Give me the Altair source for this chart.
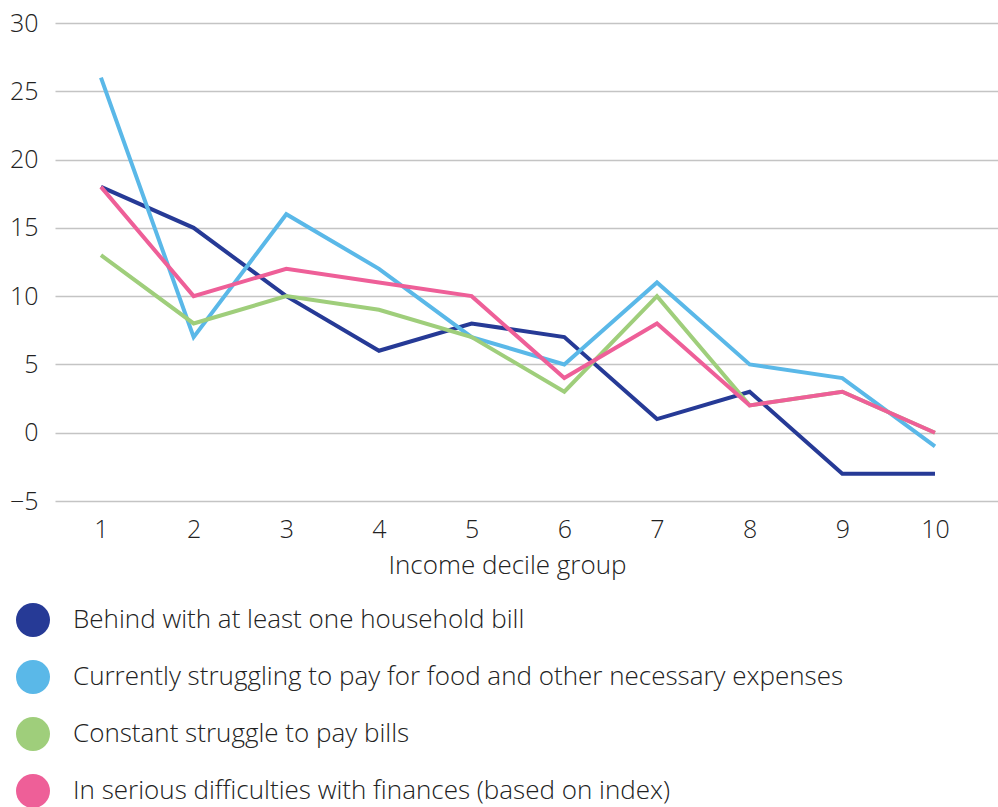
import altair as alt
import pandas as pd

deciles = [1, 2, 3, 4, 5, 6, 7, 8, 9, 10]
series_names = [
    "Behind with at least one household bill",
    "Currently struggling to pay for food and other necessary expenses",
    "Constant struggle to pay bills",
    "In serious difficulties with finances (based on index)",
]
behind = [18, 15, 10, 6, 8, 7, 1, 3, -3, -3]
struggling_food = [26, 7, 16, 12, 7, 5, 11, 5, 4, -1]
constant_struggle = [13, 8, 10, 9, 7, 3, 10, 2, 3, 0]
serious_difficulties = [18, 10, 12, 11, 10, 4, 8, 2, 3, 0]
colors = ["#263a96", "#5ab8e8", "#9fce7b", "#ee5f98"]
y_ticks = [-5, 0, 5, 10, 15, 20, 25, 30]

rows = []
for i, (name, vals) in enumerate(zip(series_names, [behind, struggling_food, constant_struggle, serious_difficulties])):
    for d, v in zip(deciles, vals):
        rows.append({"decile": d, "value": v, "series": name, "order": i})
df = pd.DataFrame(rows)

FONT = "Open Sans"
FS = 26
TFS = 25

x_enc = alt.X("decile:Q", scale=alt.Scale(domain=[0.504, 10.68], nice=False, zero=False),
              axis=alt.Axis(values=deciles, format="d", title="Income decile group", grid=False,
                            domain=False, ticks=False, labelPadding=16, titlePadding=10,
                            labelFontSize=TFS, titleFontSize=FS, titleFontWeight=300,
                            labelFontWeight=300, labelColor="#222", titleColor="#222",
                            labelFont=FONT, titleFont=FONT, titleX=452))
y_enc = alt.Y("value:Q", scale=alt.Scale(domain=[-5, 30], nice=False),
              axis=alt.Axis(values=y_ticks, format="d", title=None, domain=False, ticks=False,
                            labelPadding=17, labelFontSize=TFS, labelFontWeight=300,
                            labelColor="#222", labelFont=FONT, gridColor="#c4c4c4", gridWidth=1.5))

color_scale = alt.Scale(domain=series_names, range=colors)
legend = alt.Legend(title=None, orient="none", legendX=-39, legendY=580,
                    symbolType="circle", symbolSize=1156, symbolStrokeWidth=0,
                    symbolOpacity=1, labelFontSize=FS, labelFont=FONT,
                    labelFontWeight=300, labelColor="#222", rowPadding=23, labelOffset=23,
                    labelLimit=900, direction="vertical")

base = alt.Chart(df)

legend_points = base.transform_filter("datum.value > 1000").mark_point(filled=True).encode(
    x=x_enc, y=y_enc,
    color=alt.Color("series:N", scale=color_scale, legend=legend),
)

lines = base.mark_line(strokeWidth=4, strokeJoin="miter").encode(
    x=alt.X("decile:Q"), y=alt.Y("value:Q"),
    color=alt.Color("series:N", scale=color_scale, legend=legend),
    order=alt.Order("order:Q"),
    detail="series:N",
)

chart = alt.layer(legend_points, lines).properties(
    width=943, height=478,
    padding={"left": 55, "top": 23, "right": 0, "bottom": 306},
    autosize=alt.AutoSizeParams(type="none"),
).configure_view(stroke=None)

chart.save("out.html", embed_options={"renderer": "svg", "actions": False})
